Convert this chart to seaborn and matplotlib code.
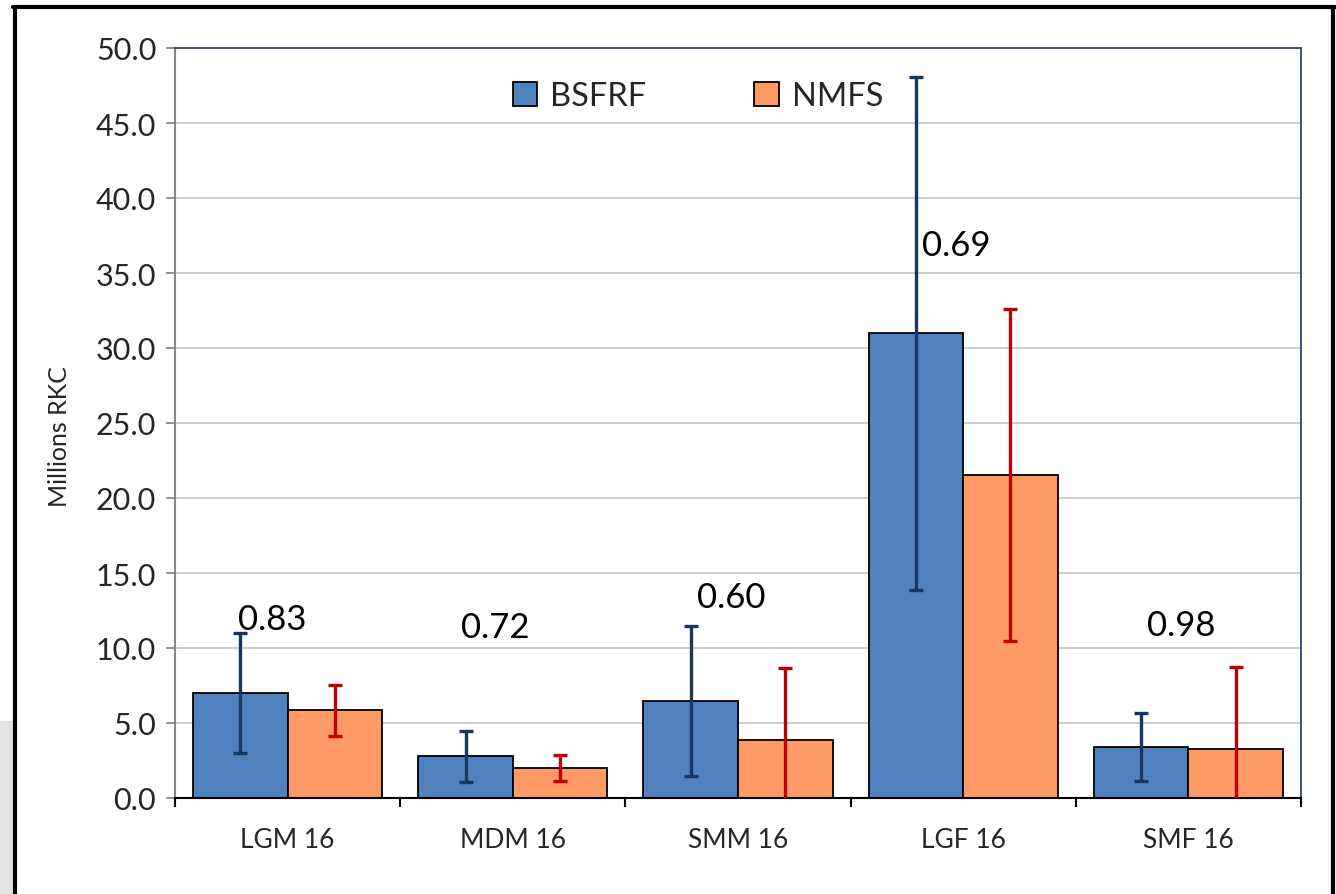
import matplotlib
matplotlib.use("Agg")
import matplotlib.pyplot as plt
from matplotlib.patches import Patch, Rectangle
from matplotlib.lines import Line2D
from matplotlib.ticker import FixedLocator, FormatStrFormatter
import pandas as pd
import seaborn as sns

# chart values
categories = ['LGM 16', 'MDM 16', 'SMM 16', 'LGF 16', 'SMF 16']
bsfrf = [7.0, 2.8, 6.45, 31.0, 3.4]
bsfrf_err = [4.0, 1.7, 5.0, 17.1, 2.25]
nmfs = [5.85, 2.0, 3.9, 21.55, 3.3]
nmfs_err = [1.7, 0.87, 4.8, 11.05, 5.45]
ratios = ['0.83', '0.72', '0.60', '0.69', '0.98']
ratio_y = [11.9, 11.4, 13.4, 36.9, 11.5]
series = ['BSFRF', 'NMFS']

colors = {'BSFRF': '#4f81bd', 'NMFS': '#ff9966'}
err_colors = {'BSFRF': '#17375e', 'NMFS': '#c00000'}
label_dx = [-0.07, -0.08, -0.03, -0.03, -0.03]

df = pd.DataFrame({
    'category': categories * 2,
    'series': ['BSFRF'] * len(categories) + ['NMFS'] * len(categories),
    'value': bsfrf + nmfs,
})
errs = {'BSFRF': bsfrf_err, 'NMFS': nmfs_err}

sns.set_style('white')
plt.rcParams['font.family'] = ['Lato', 'DejaVu Sans']

fig = plt.figure(figsize=(13.36, 8.95), dpi=100)
ax = fig.add_axes([175 / 1336, 1 - 799 / 895, 1126 / 1336, 750 / 895])

sns.barplot(data=df, x='category', y='value', hue='series', palette=colors,
            order=categories, hue_order=series, width=0.84, errorbar=None,
            edgecolor='black', linewidth=1.3, saturation=1, ax=ax, legend=False,
            zorder=2)

# error bars on top of each bar
for cont, name in zip(ax.containers, series):
    xs = [p.get_x() + p.get_width() / 2 for p in cont]
    ys = [p.get_height() for p in cont]
    ax.errorbar(xs, ys, yerr=errs[name], fmt='none', ecolor=err_colors[name],
                elinewidth=2.4, capsize=5, capthick=2.4, zorder=3)

# ratio labels
for i, (txt, yy) in enumerate(zip(ratios, ratio_y)):
    ax.text(i + label_dx[i], yy, txt, ha='center', va='center', fontsize=25,
            color='black', zorder=4)

ax.set_ylim(0, 50)
ax.set_xlim(-0.5, len(categories) - 0.5)
ax.yaxis.set_major_locator(FixedLocator([i * 5 for i in range(11)]))
ax.yaxis.set_major_formatter(FormatStrFormatter('%.1f'))
ax.grid(axis='y', color='#bfbfbf', linewidth=1.1, zorder=0)
ax.set_axisbelow(True)

ax.set_xlabel('')
ax.set_ylabel('Millions RKC', fontsize=18)
ax.yaxis.set_label_coords(-0.092, 0.483)

ax.tick_params(axis='y', which='major', direction='out', length=6.5, width=1.3,
               color='#878787', labelsize=22, pad=7, left=True)
ax.tick_params(axis='x', which='major', length=0, labelsize=19, pad=21)
ax.xaxis.set_minor_locator(FixedLocator([i - 0.5 for i in range(len(categories) + 1)]))
ax.tick_params(axis='x', which='minor', direction='out', length=6.5, width=1.5,
               color='black', bottom=True)

ax.spines['left'].set_color('#878787')
ax.spines['left'].set_linewidth(1.5)
ax.spines['bottom'].set_color('black')
ax.spines['bottom'].set_linewidth(1.5)
for s in ['top', 'right']:
    ax.spines[s].set_color('#3d5275')
    ax.spines[s].set_linewidth(1.4)

handles = [Patch(facecolor=colors[s], edgecolor='black', linewidth=1.3, label=s)
           for s in series]
ax.legend(handles=handles, loc='center', bbox_to_anchor=(0.4645, 0.936), ncol=2,
          frameon=False, fontsize=23.5, handlelength=0.75, handleheight=0.75,
          handletextpad=0.4, columnspacing=3.3)

# outer frame and the grey strip at the bottom-left edge
fig.add_artist(Rectangle((0, 0), 13 / 1336, 173 / 895, transform=fig.transFigure,
                         facecolor='#e3e3e3', edgecolor='none', zorder=0))
lw = 3.0
fig.add_artist(Line2D([13 / 1336, 1335 / 1336], [1 - 8 / 895, 1 - 8 / 895],
                      transform=fig.transFigure, color='black', linewidth=lw))
fig.add_artist(Line2D([15 / 1336, 15 / 1336], [0, 1 - 8 / 895],
                      transform=fig.transFigure, color='black', linewidth=lw))
fig.add_artist(Line2D([1333 / 1336, 1333 / 1336], [0, 1 - 8 / 895],
                      transform=fig.transFigure, color='black', linewidth=lw))

fig.savefig('out.png', dpi=100)
